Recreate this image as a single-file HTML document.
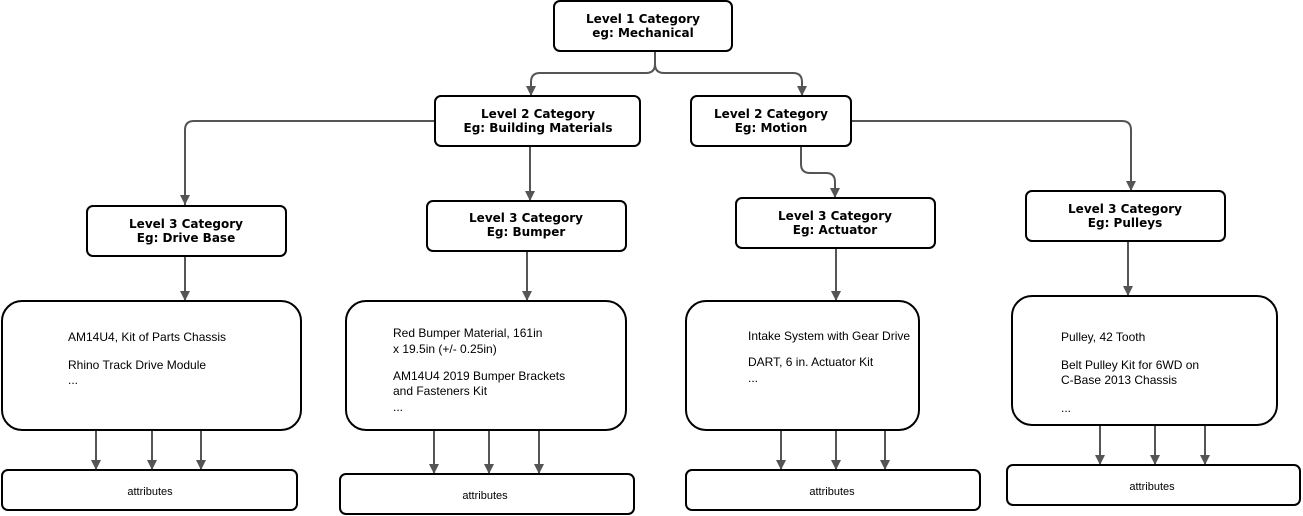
<!DOCTYPE html>
<html><head><meta charset="utf-8"><style>
html,body{margin:0;padding:0;background:#fff;}
svg{display:block;}
.b{font-family:"DejaVu Sans","Liberation Sans",sans-serif;font-weight:bold;font-size:12px;fill:#000;}
.t{font-family:"Liberation Sans",sans-serif;font-size:12px;fill:#000;}
.a{font-family:"Liberation Sans",sans-serif;font-size:11px;fill:#000;}
</style></head><body>
<svg width="1303" height="516" viewBox="0 0 1303 516" xmlns="http://www.w3.org/2000/svg">
<defs><marker id="ar" markerWidth="10" markerHeight="10" refX="5" refY="8" orient="auto" markerUnits="userSpaceOnUse">
<path d="M0,0 L10,0 L5,9 Z" transform="rotate(-90 5 5) translate(0,0)" fill="#555"/></marker>
<marker id="m" viewBox="0 0 10 10" refX="10" refY="5" markerWidth="10" markerHeight="10" orient="auto" markerUnits="userSpaceOnUse"><path d="M0,0 L10,5 L0,10 Z" fill="#555"/></marker></defs>
<g fill="none" stroke="#555" stroke-width="2">
<path d="M655,51 V64 Q655,73 646,73 H540 Q531,73 531,82 V96" marker-end="url(#m)"/>
<path d="M655,51 V64 Q655,73 664,73 H793 Q802,73 802,82 V96" marker-end="url(#m)"/>
<path d="M435,121 H194 Q185,121 185,130 V205" marker-end="url(#m)"/>
<path d="M530,146 V201" marker-end="url(#m)"/>
<path d="M801,146 V164 Q801,173 810,173 H826 Q835,173 835,182 V198" marker-end="url(#m)"/>
<path d="M851,121 H1122 Q1131,121 1131,130 V191" marker-end="url(#m)"/>
<path d="M185,256 V301" marker-end="url(#m)"/>
<path d="M527,251 V301" marker-end="url(#m)"/>
<path d="M836,248 V301" marker-end="url(#m)"/>
<path d="M1128,241 V296" marker-end="url(#m)"/>
<path d="M96,430 V470" marker-end="url(#m)"/>
<path d="M152,430 V470" marker-end="url(#m)"/>
<path d="M201,430 V470" marker-end="url(#m)"/>
<path d="M434,430 V474" marker-end="url(#m)"/>
<path d="M489,430 V474" marker-end="url(#m)"/>
<path d="M539,430 V474" marker-end="url(#m)"/>
<path d="M781,430 V470" marker-end="url(#m)"/>
<path d="M836,430 V470" marker-end="url(#m)"/>
<path d="M885,430 V470" marker-end="url(#m)"/>
<path d="M1100,425 V465" marker-end="url(#m)"/>
<path d="M1155,425 V465" marker-end="url(#m)"/>
<path d="M1205,425 V465" marker-end="url(#m)"/>
</g>
<g fill="#fff" stroke="#000" stroke-width="2">
<rect x="554" y="1" width="178" height="50" rx="6"/>
<rect x="435" y="96" width="205" height="50" rx="6"/>
<rect x="691" y="96" width="160" height="50" rx="6"/>
<rect x="87" y="206" width="199" height="50" rx="6"/>
<rect x="427" y="201" width="199" height="50" rx="6"/>
<rect x="736" y="198" width="199" height="50" rx="6"/>
<rect x="1026" y="191" width="199" height="50" rx="6"/>
<rect x="2" y="301" width="299" height="129" rx="20"/>
<rect x="346" y="301" width="280" height="129" rx="20"/>
<rect x="686" y="301" width="233" height="129" rx="20"/>
<rect x="1012" y="296" width="265" height="129" rx="20"/>
<rect x="2" y="470" width="295" height="40" rx="6"/>
<rect x="340" y="474" width="294" height="40" rx="6"/>
<rect x="686" y="470" width="294" height="40" rx="6"/>
<rect x="1007" y="465" width="293" height="40" rx="6"/>
</g>
<g class="b" text-anchor="middle">
<text x="643" y="23">Level 1 Category</text><text x="643" y="37">eg: Mechanical</text>
<text x="538" y="118">Level 2 Category</text><text x="538" y="132">Eg: Building Materials</text>
<text x="771" y="118">Level 2 Category</text><text x="771" y="132">Eg: Motion</text>
<text x="186" y="228">Level 3 Category</text><text x="186" y="242">Eg: Drive Base</text>
<text x="526" y="222">Level 3 Category</text><text x="526" y="236">Eg: Bumper</text>
<text x="835" y="220">Level 3 Category</text><text x="835" y="234">Eg: Actuator</text>
<text x="1125" y="213">Level 3 Category</text><text x="1125" y="227">Eg: Pulleys</text>
</g>
<g class="t">
<text x="68" y="341">AM14U4, Kit of Parts Chassis</text>
<text x="68" y="369">Rhino Track Drive Module</text>
<text x="68" y="384">...</text>
<text x="393" y="337">Red Bumper Material, 161in</text>
<text x="393" y="353">x 19.5in (+/- 0.25in)</text>
<text x="393" y="380">AM14U4 2019 Bumper Brackets</text>
<text x="393" y="395">and Fasteners Kit</text>
<text x="393" y="411">...</text>
<text x="748" y="340">Intake System with Gear Drive</text>
<text x="748" y="366">DART, 6 in. Actuator Kit</text>
<text x="748" y="382">...</text>
<text x="1061" y="341">Pulley, 42 Tooth</text>
<text x="1061" y="369">Belt Pulley Kit for 6WD on</text>
<text x="1061" y="384">C-Base 2013 Chassis</text>
<text x="1061" y="412">...</text>
</g>
<g class="a" text-anchor="middle">
<text x="150" y="495">attributes</text>
<text x="485" y="499">attributes</text>
<text x="832" y="495">attributes</text>
<text x="1152" y="490">attributes</text>
</g>
</svg>
</body></html>
